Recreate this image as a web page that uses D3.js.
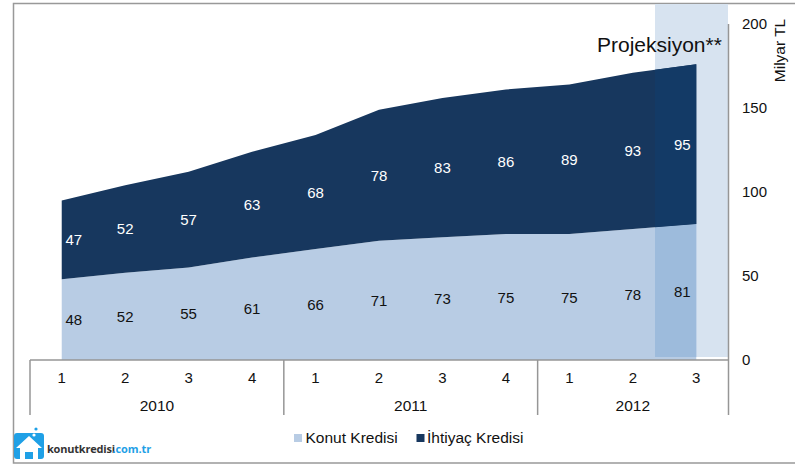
<!DOCTYPE html>
<html><head><meta charset="utf-8">
<script src="https://cdn.jsdelivr.net/npm/d3@7/dist/d3.min.js"></script>
<style>html,body{margin:0;padding:0;background:#fff}svg{display:block}text{font-family:"Liberation Sans",Arial,sans-serif}</style>
</head><body><svg id="c" width="795" height="464"></svg>
<script>
const quarters = ["1","2","3","4","1","2","3","4","1","2","3"];
const years = ["2010","2011","2012"];
const yearOf = [0,0,0,0,1,1,1,1,2,2,2];
const konut = [48,52,55,61,66,71,73,75,75,78,81];
const ihtiyac = [47,52,57,63,68,78,83,86,89,93,95];
const yTicks = [0,50,100,150,200];
const seriesNames = ["Konut Kredisi","İhtiyaç Kredisi"];
const colors = ["#b8cce4","#17375e"];
const overlayColors = ["#9dbbdc","#133a66"];
const ids = quarters.map((_,i)=>i);

const svg = d3.select("#c");
const x = d3.scaleBand().domain(ids).range([30,728]);
const y = d3.scaleLinear().domain([0,200]).range([360,24]);
const cx = i => x(i)+x.bandwidth()/2;
const grey = "#969696";
const fs = 15;

// frame
svg.append("path").attr("d","M795,3.5H13.5V463H795").attr("fill","none").attr("stroke","#999").attr("stroke-width",1.5);

// projection band
svg.append("rect").attr("x",655).attr("y",4).attr("width",73).attr("height",353).attr("fill","#d7e3f0");
svg.append("defs").append("clipPath").attr("id","proj").append("rect").attr("x",655).attr("y",4).attr("width",73).attr("height",353);

const lower = [i=>0, i=>konut[i]];
const upper = [i=>konut[i], i=>konut[i]+ihtiyac[i]];
const area = k => d3.area().x(cx).y0(i=>y(lower[k](i))).y1(i=>y(upper[k](i)));
[0,1].forEach(k=>{
  svg.append("path").datum(ids).attr("d",area(k)).attr("fill",colors[k]);
});
[0,1].forEach(k=>{
  svg.append("path").datum(ids).attr("d",area(k)).attr("fill",overlayColors[k]).attr("clip-path","url(#proj)");
});

// value labels, kept inside the area's horizontal span
const labX = i => Math.min(cx(ids.length-1)-14, Math.max(cx(0)+12, cx(i)));
const lab = (vals,base,fill)=>svg.append("g").selectAll("text").data(ids).join("text")
  .attr("x",labX).attr("y",i=>y(base(i)+vals[i]/2)+5.5).attr("text-anchor","middle")
  .attr("font-size",fs).attr("fill",fill).text(i=>vals[i]);
lab(konut,i=>0,"#111");
lab(ihtiyac,i=>konut[i],"#fff");

// y axis
const yAxis = d3.axisRight(y).tickValues(yTicks).tickSize(0).tickPadding(13.5);
const ya = svg.append("g").attr("transform","translate(728.5,0)").call(yAxis);
ya.select(".domain").remove();
ya.selectAll("text").attr("font-size",fs).attr("fill","#111").attr("font-family",'"Liberation Sans"');
svg.append("line").attr("x1",728.5).attr("x2",728.5).attr("y1",24).attr("y2",415).attr("stroke",grey).attr("stroke-width",1.5);
svg.append("text").attr("transform","translate(785,50.5) rotate(-90)").attr("text-anchor","middle")
  .attr("font-size",15.5).attr("fill","#111").text("Milyar TL");

// category axis
svg.append("line").attr("x1",30).attr("x2",728.5).attr("y1",360).attr("y2",360).attr("stroke",grey).attr("stroke-width",1.5);
const boundaries = [0,4,8];
svg.append("g").selectAll("line").data(boundaries).join("line")
  .attr("x1",i=>x(i)).attr("x2",i=>x(i)).attr("y1",360).attr("y2",415).attr("stroke",grey).attr("stroke-width",1.5);
svg.append("g").selectAll("text").data(ids).join("text")
  .attr("x",cx).attr("y",383).attr("text-anchor","middle").attr("font-size",fs).attr("fill","#111").text(i=>quarters[i]);
svg.append("g").selectAll("text").data(years).join("text")
  .attr("x",(d,j)=>{const m=ids.filter(i=>yearOf[i]===j);return (x(m[0])+x(m[m.length-1])+x.bandwidth())/2;})
  .attr("y",410.5).attr("text-anchor","middle").attr("font-size",15.5).attr("fill","#111").text(d=>d);

// projection title
svg.append("text").attr("x",597).attr("y",52).attr("font-size",21).attr("fill","#111").text("Projeksiyon**");

// legend
const legX = [294,416.5], legT=[305.5,427];
seriesNames.forEach((n,k)=>{
  svg.append("rect").attr("x",legX[k]).attr("y",434).attr("width",8).attr("height",8).attr("fill",colors[k]);
  svg.append("text").attr("x",legT[k]).attr("y",443).attr("font-size",15.5).attr("fill","#111").text(n);
});

// logo
const logo = svg.append("g");
logo.append("rect").attr("x",14).attr("y",433).attr("width",30).attr("height",26).attr("rx",3).attr("fill","#1fa0e6");
logo.append("path").attr("d","M16,448L29,436L42,448H38V459H33V452H25V459H20V448Z").attr("fill","#fff");
logo.append("circle").attr("cx",36).attr("cy",429).attr("r",1.6).attr("fill","#1fa0e6");
logo.append("circle").attr("cx",34).attr("cy",435).attr("r",1.6).attr("fill","#fff");
logo.append("text").attr("x",47).attr("y",452.5).attr("font-size",11).attr("font-weight",700)
  .style("letter-spacing","-0.2px").style("font-family",'"Open Sans"').attr("fill","#333").text("konutkredisi");
logo.append("text").attr("x",112.5).attr("y",452.5).attr("font-size",11).attr("font-weight",700)
  .style("letter-spacing","-0.1px").style("font-family",'"Open Sans"').attr("fill","#1fa0e6").text(".com.tr");
</script></body></html>
